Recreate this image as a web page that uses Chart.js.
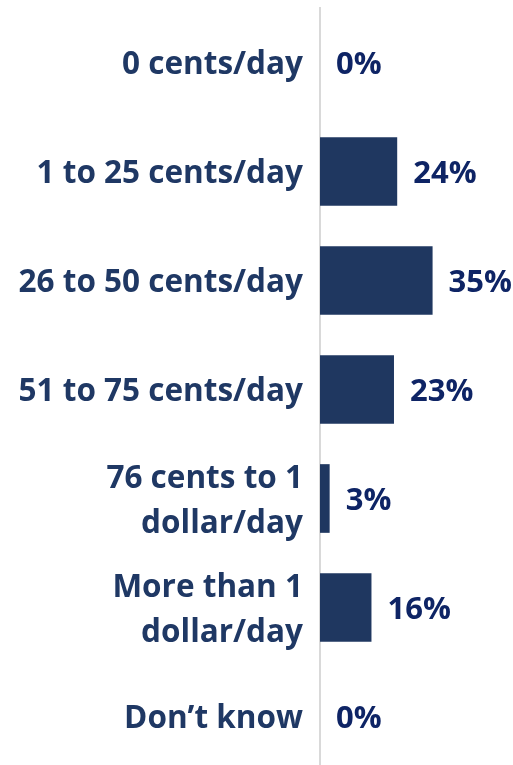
<!DOCTYPE html>
<html>
<head>
<meta charset="utf-8">
<script src="https://cdn.jsdelivr.net/npm/chart.js@4.4.1/dist/chart.umd.min.js"></script>
<style>
  html, body { margin: 0; padding: 0; background: #fff; overflow: hidden; }
  #wrap { width: 513px; height: 771px; position: relative; }
</style>
</head>
<body>
<div id="wrap"><canvas id="grafico"></canvas></div>
<script>
const categorias = [
    "0 cents/day",
    "1 to 25 cents/day",
    "26 to 50 cents/day",
    "51 to 75 cents/day",
    ["76 cents to 1", "dollar/day"],
    ["More than 1", "dollar/day"],
    "Don\u2019t know"
];
const valores = [0, 24, 35, 23, 3, 16, 0];
const corBarra = '#1F3760';
const corTexto = '#1F3864';
const corValor = '#0E2465';
const fonte = '"Open Sans", sans-serif';

// rótulos de valor ao lado das barras
const rotulosValor = {
    id: 'rotulosValor',
    afterDatasetsDraw(chart) {
        const ctx = chart.ctx;
        const meta = chart.getDatasetMeta(0);
        ctx.save();
        ctx.font = `bold 31px ${fonte}`;
        ctx.fillStyle = corValor;
        ctx.textAlign = 'left';
        ctx.textBaseline = 'middle';
        meta.data.forEach((barra, i) => {
            ctx.fillText(valores[i] + '%', barra.x + 16, barra.y + 3);
        });
        ctx.restore();
    }
};

new Chart(document.getElementById('grafico'), {
    type: 'bar',
    data: {
        labels: categorias,
        datasets: [{
            data: valores,
            backgroundColor: corBarra,
            borderWidth: 0,
            categoryPercentage: 1,
            barPercentage: 0.63
        }]
    },
    options: {
        indexAxis: 'y',
        responsive: true,
        maintainAspectRatio: false,
        animation: false,
        layout: { padding: { top: 8, right: 0, bottom: 0, left: 0 } },
        plugins: {
            legend: { display: false },
            tooltip: { enabled: false }
        },
        scales: {
            x: {
                min: 0,
                max: 60,
                display: false
            },
            y: {
                afterFit(scale) {
                    scale.width = 320;
                    scale.paddingTop = 0;
                    scale.paddingBottom = 0;
                },
                grid: { display: false, drawTicks: false },
                border: { display: true, color: '#D9D9D9', width: 2 },
                ticks: {
                    color: corTexto,
                    padding: 17,
                    labelOffset: 3,
                    font: { family: fonte, size: 31.5, weight: 'bold', lineHeight: 1.4 }
                }
            }
        }
    },
    plugins: [rotulosValor]
});
</script>
</body>
</html>
